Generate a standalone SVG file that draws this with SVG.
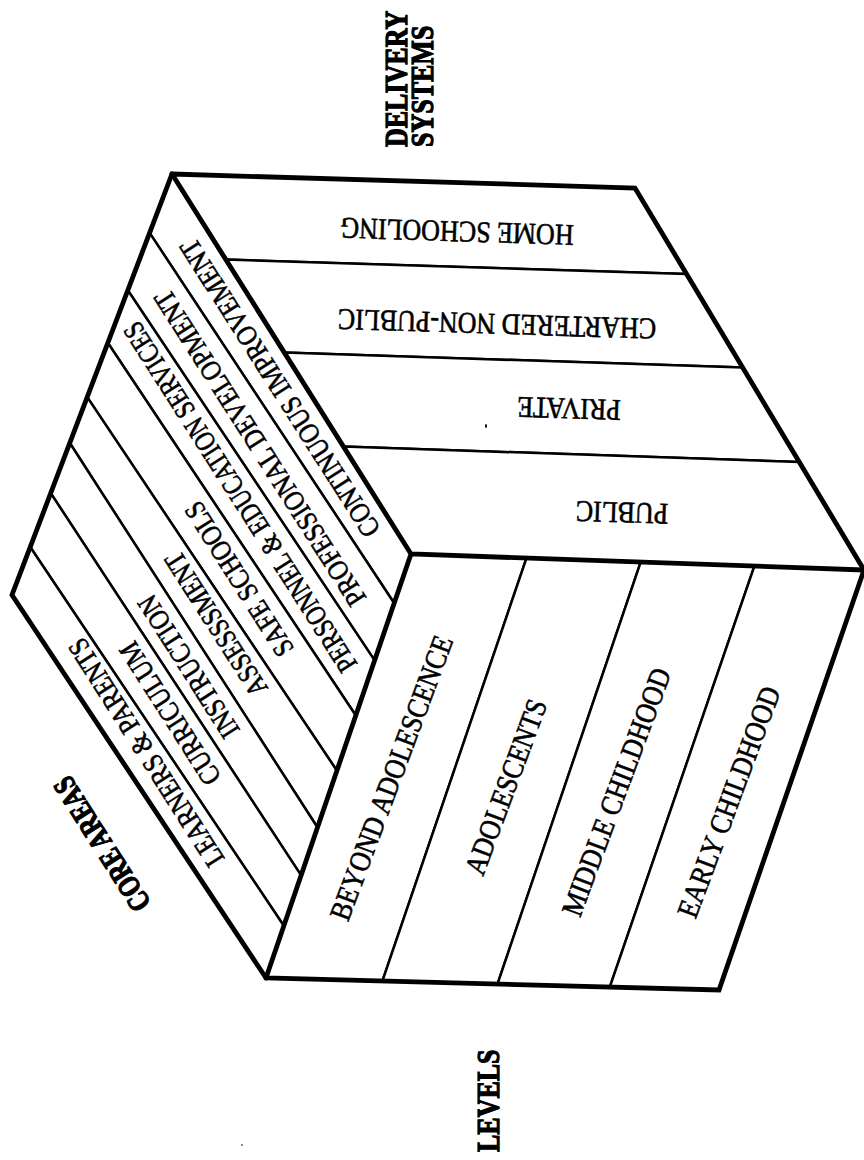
<svg xmlns="http://www.w3.org/2000/svg" width="864" height="1160" viewBox="0 0 864 1160">
<style>
.strip{fill:#fff;stroke:#000;stroke-width:2.5;stroke-linejoin:miter}
.edge{fill:none;stroke:#000;stroke-width:4.8;stroke-linejoin:miter;stroke-linecap:round}
.lbl{font-family:"Liberation Serif","Times New Roman",serif;font-size:30px;fill:#000;stroke:#000;stroke-width:0.6;text-anchor:middle}
.core{font-size:29px}
.head{font-family:"Liberation Serif","Times New Roman",serif;font-weight:bold;font-size:26px;fill:#000;stroke:#000;stroke-width:1}
</style>
<rect width="864" height="1160" fill="#fff"/>

<!-- Delivery systems face (right/top) -->
<g id="delivery-systems">
  <g id="home-schooling">
    <polygon class="strip" points="172,174 635,188 686.5,274 225.8,259.5"/>
    <text class="lbl" transform="translate(457,231.5) rotate(181.8) scale(0.867,1)" x="0" y="9.9">HOME SCHOOLING</text>
  </g>
  <g id="chartered-non-public">
    <polygon class="strip" points="225.8,259.5 686.5,274 742.6,367.5 284.3,352.6"/>
    <text class="lbl" transform="translate(497,324) rotate(181.8) scale(0.867,1)" x="0" y="9.9">CHARTERED NON-PUBLIC</text>
  </g>
  <g id="private">
    <polygon class="strip" points="284.3,352.6 742.6,367.5 799.2,461.9 343.4,446.5"/>
    <text class="lbl" transform="translate(569,408.5) rotate(181.8) scale(0.867,1)" x="0" y="9.9">PRIVATE</text>
  </g>
  <g id="public">
    <polygon class="strip" points="343.4,446.5 799.2,461.9 864,570 411,554"/>
    <text class="lbl" transform="translate(622,512.5) rotate(181.8) scale(0.867,1)" x="0" y="9.9">PUBLIC</text>
  </g>
</g>

<!-- Core areas face (left) -->
<g id="core-areas">
  <g id="continuous-improvement">
    <polygon class="strip" points="172,174 411,554 394.2,603.2 149.6,232.9"/>
    <text class="lbl core" transform="translate(280,388) rotate(-122.5) scale(0.85,1)" x="0" y="9.6">CONTINUOUS IMPROVEMENT</text>
  </g>
  <g id="professional-development">
    <polygon class="strip" points="149.6,232.9 394.2,603.2 374.6,660.4 127.8,290.2"/>
    <text class="lbl core" transform="translate(260,448) rotate(-122.5) scale(0.85,1)" x="0" y="9.6">PROFESSIONAL DEVELOPMENT</text>
  </g>
  <g id="personnel-education-services">
    <polygon class="strip" points="127.8,290.2 374.6,660.4 355.8,715.5 107.8,342.8"/>
    <text class="lbl core" transform="translate(240,497) rotate(-122.5) scale(0.80,1)" x="0" y="9.6">PERSONNEL &amp; EDUCATION SERVICES</text>
  </g>
  <g id="safe-schools">
    <polygon class="strip" points="107.8,342.8 355.8,715.5 336.9,770.7 87.2,397.1"/>
    <text class="lbl core" transform="translate(239,579) rotate(-122.5) scale(0.845,1)" x="0" y="9.6">SAFE SCHOOLS</text>
  </g>
  <g id="assessment">
    <polygon class="strip" points="87.2,397.1 336.9,770.7 317.5,827.5 69.8,443"/>
    <text class="lbl core" transform="translate(216,624) rotate(-122.5) scale(0.82,1)" x="0" y="9.6">ASSESSSMENT</text>
  </g>
  <g id="instruction">
    <polygon class="strip" points="69.8,443 317.5,827.5 301.1,875.4 50.7,493.1"/>
    <text class="lbl core" transform="translate(188.5,666.5) rotate(-122.5) scale(0.845,1)" x="0" y="9.6">INSTRUCTION</text>
  </g>
  <g id="curriculum">
    <polygon class="strip" points="50.7,493.1 301.1,875.4 283.8,925.8 30.2,547"/>
    <text class="lbl core" transform="translate(170,713.5) rotate(-122.5) scale(0.845,1)" x="0" y="9.6">CURRICULUM</text>
  </g>
  <g id="learners-parents">
    <polygon class="strip" points="30.2,547 283.8,925.8 266,978 12,595"/>
    <text class="lbl core" transform="translate(146,752.5) rotate(-122.5) scale(0.845,1)" x="0" y="9.6">LEARNERS &amp; PARENTS</text>
  </g>
</g>

<!-- Levels face (bottom/front) -->
<g id="levels">
  <g id="beyond-adolescence">
    <polygon class="strip" points="411,554 526.5,558.1 382.4,981.1 266,978"/>
    <text class="lbl" transform="translate(391.5,778) rotate(-69.5) scale(0.867,1)" x="0" y="9.9">BEYOND ADOLESCENCE</text>
  </g>
  <g id="adolescents">
    <polygon class="strip" points="526.5,558.1 640.7,562.1 497.5,984.1 382.4,981.1"/>
    <text class="lbl" transform="translate(506,787) rotate(-69.5) scale(0.867,1)" x="0" y="9.9">ADOLESCENTS</text>
  </g>
  <g id="middle-childhood">
    <polygon class="strip" points="640.7,562.1 754.4,566.1 609.8,987.1 497.5,984.1"/>
    <text class="lbl" transform="translate(616.5,792) rotate(-69.5) scale(0.867,1)" x="0" y="9.9">MIDDLE CHILDHOOD</text>
  </g>
  <g id="early-childhood">
    <polygon class="strip" points="754.4,566.1 864,570 719,990 609.8,987.1"/>
    <text class="lbl" transform="translate(729,802) rotate(-69.5) scale(0.867,1)" x="0" y="9.9">EARLY CHILDHOOD</text>
  </g>
</g>

<!-- Cube edges -->
<g id="connectors">
  <path class="edge" d="M172,174 L635,188 L864,570 L719,990 L266,978 L12,595 Z"/>
  <path class="edge" d="M172,174 L411,554 L864,570 M411,554 L266,978"/>
</g>

<!-- Axis headings -->
<g id="heading-delivery">
  <text class="head" transform="translate(407,147) rotate(-90) scale(1,1.25)">DELIVERY</text>
  <text class="head" transform="translate(433,147) rotate(-90) scale(1,1.25)">SYSTEMS</text>
</g>
<g id="heading-core">
  <text class="head" text-anchor="middle" transform="translate(102,844) rotate(-122.5) scale(1,1.3)" x="0" y="7.85" style="font-size:23.7px">CORE AREAS</text>
</g>
<g id="heading-levels">
  <text class="head" transform="translate(499,1152) rotate(-90) scale(1,1.25)">LEVELS</text>
</g>

<!-- scan specks -->
<ellipse cx="486" cy="426" rx="1" ry="2" fill="#000"/>
<ellipse cx="242" cy="1145" rx="0.8" ry="0.8" fill="#000"/>
</svg>
